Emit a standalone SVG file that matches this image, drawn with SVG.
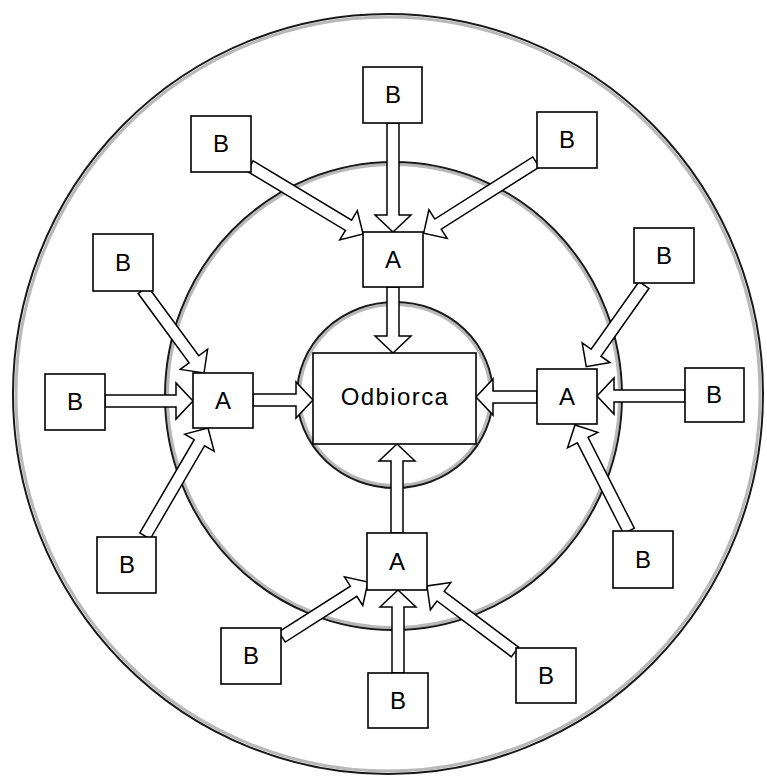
<svg xmlns="http://www.w3.org/2000/svg" width="767" height="778" viewBox="0 0 767 778">
<style>
.ring{fill:none;stroke:#1a1a1a;stroke-width:2}
.shade{fill:none;stroke:#b8b8b8;stroke-width:3}
.box{fill:#fff;stroke:#000;stroke-width:1.6}
.lbl{font-family:"Liberation Sans",Arial,sans-serif;font-size:24px;fill:#000;text-anchor:middle}
.arr{fill:#fff;stroke:#000;stroke-width:1.5;stroke-linejoin:miter}
</style>
<rect width="767" height="778" fill="#fff"/>
<g id="rings">
<ellipse class="shade" cx="388" cy="394" rx="372" ry="377"/>
<ellipse class="ring" cx="388" cy="394" rx="375" ry="380"/>
<ellipse class="shade" cx="393.5" cy="396" rx="226" ry="231.5"/>
<ellipse class="ring" cx="393.5" cy="396" rx="228.5" ry="234"/>
<ellipse class="shade" cx="395" cy="395" rx="95.5" ry="90.5"/>
<ellipse class="ring" cx="395" cy="395" rx="98" ry="93"/>
</g>
<g id="connectors">
<path class="arr" transform="translate(393,123) rotate(90)" d="M0,-6 H92 V-18 L109,0 L92,18 V6 H0 Z"/>
<path class="arr" transform="translate(250,166) rotate(31.04)" d="M0,-6 H115 V-17 L132,0 L115,17 V6 H0 Z"/>
<path class="arr" transform="translate(536,162) rotate(147.63)" d="M0,-6 H116 V-17 L133,0 L116,17 V6 H0 Z"/>
<path class="arr" transform="translate(393,287) rotate(90)" d="M0,-6 H49 V-18 L66,0 L49,18 V6 H0 Z"/>
<path class="arr" transform="translate(105,401)" d="M0,-6 H71 V-18 L88,0 L71,18 V6 H0 Z"/>
<path class="arr" transform="translate(143,290) rotate(53.69)" d="M0,-6 H86 V-17 L103,0 L86,17 V6 H0 Z"/>
<path class="arr" transform="translate(145,536) rotate(-59.74)" d="M0,-6 H108 V-17 L125,0 L108,17 V6 H0 Z"/>
<path class="arr" transform="translate(253,400)" d="M0,-6 H43 V-18 L60,0 L43,18 V6 H0 Z"/>
<path class="arr" transform="translate(398,673) rotate(-90)" d="M0,-6 H66 V-18 L83,0 L66,18 V6 H0 Z"/>
<path class="arr" transform="translate(282,637) rotate(-32.6)" d="M0,-6 H85 V-17 L102,0 L85,17 V6 H0 Z"/>
<path class="arr" transform="translate(515,652) rotate(-143.13)" d="M0,-6 H93 V-17 L110,0 L93,17 V6 H0 Z"/>
<path class="arr" transform="translate(397,533) rotate(-90)" d="M0,-6 H72 V-18 L89,0 L72,18 V6 H0 Z"/>
<path class="arr" transform="translate(685,396) rotate(180)" d="M0,-6 H71 V-18 L88,0 L71,18 V6 H0 Z"/>
<path class="arr" transform="translate(644,285) rotate(125.27)" d="M0,-6 H83 V-17 L100,0 L83,17 V6 H0 Z"/>
<path class="arr" transform="translate(629,531) rotate(-117)" d="M0,-6 H102 V-17 L119,0 L102,17 V6 H0 Z"/>
<path class="arr" transform="translate(537,397) rotate(180)" d="M0,-6 H44 V-18 L61,0 L44,18 V6 H0 Z"/>
</g>
<g id="odbiorca"><rect class="box" x="313" y="353" width="163" height="91"/><text class="lbl" x="395" y="405" letter-spacing="1.4">Odbiorca</text></g>
<g id="a-top"><rect class="box" x="363" y="232" width="60" height="55"/><text class="lbl" x="393" y="268">A</text></g>
<g id="a-left"><rect class="box" x="193" y="373" width="60" height="55"/><text class="lbl" x="223" y="409">A</text></g>
<g id="a-bottom"><rect class="box" x="367" y="533" width="60" height="57"/><text class="lbl" x="397" y="570">A</text></g>
<g id="a-right"><rect class="box" x="537" y="369" width="60" height="55"/><text class="lbl" x="567" y="405">A</text></g>
<g id="b-top-center"><rect class="box" x="363" y="67" width="59" height="56"/><text class="lbl" x="393" y="103">B</text></g>
<g id="b-top-left"><rect class="box" x="191" y="116" width="60" height="56"/><text class="lbl" x="221" y="152">B</text></g>
<g id="b-top-right"><rect class="box" x="537" y="112" width="60" height="56"/><text class="lbl" x="567" y="148">B</text></g>
<g id="b-left-top"><rect class="box" x="93" y="234" width="60" height="57"/><text class="lbl" x="123" y="271">B</text></g>
<g id="b-left-mid"><rect class="box" x="45" y="374" width="60" height="56"/><text class="lbl" x="75" y="410">B</text></g>
<g id="b-left-bottom"><rect class="box" x="97" y="537" width="59" height="56"/><text class="lbl" x="127" y="573">B</text></g>
<g id="b-bottom-left"><rect class="box" x="221" y="628" width="60" height="56"/><text class="lbl" x="251" y="664">B</text></g>
<g id="b-bottom-center"><rect class="box" x="368" y="673" width="60" height="55"/><text class="lbl" x="398" y="709">B</text></g>
<g id="b-bottom-right"><rect class="box" x="516" y="648" width="60" height="55"/><text class="lbl" x="546" y="684">B</text></g>
<g id="b-right-top"><rect class="box" x="634" y="228" width="60" height="55"/><text class="lbl" x="664" y="264">B</text></g>
<g id="b-right-mid"><rect class="box" x="685" y="368" width="59" height="54"/><text class="lbl" x="714" y="403">B</text></g>
<g id="b-right-bottom"><rect class="box" x="613" y="531" width="60" height="57"/><text class="lbl" x="643" y="568">B</text></g>
</svg>
